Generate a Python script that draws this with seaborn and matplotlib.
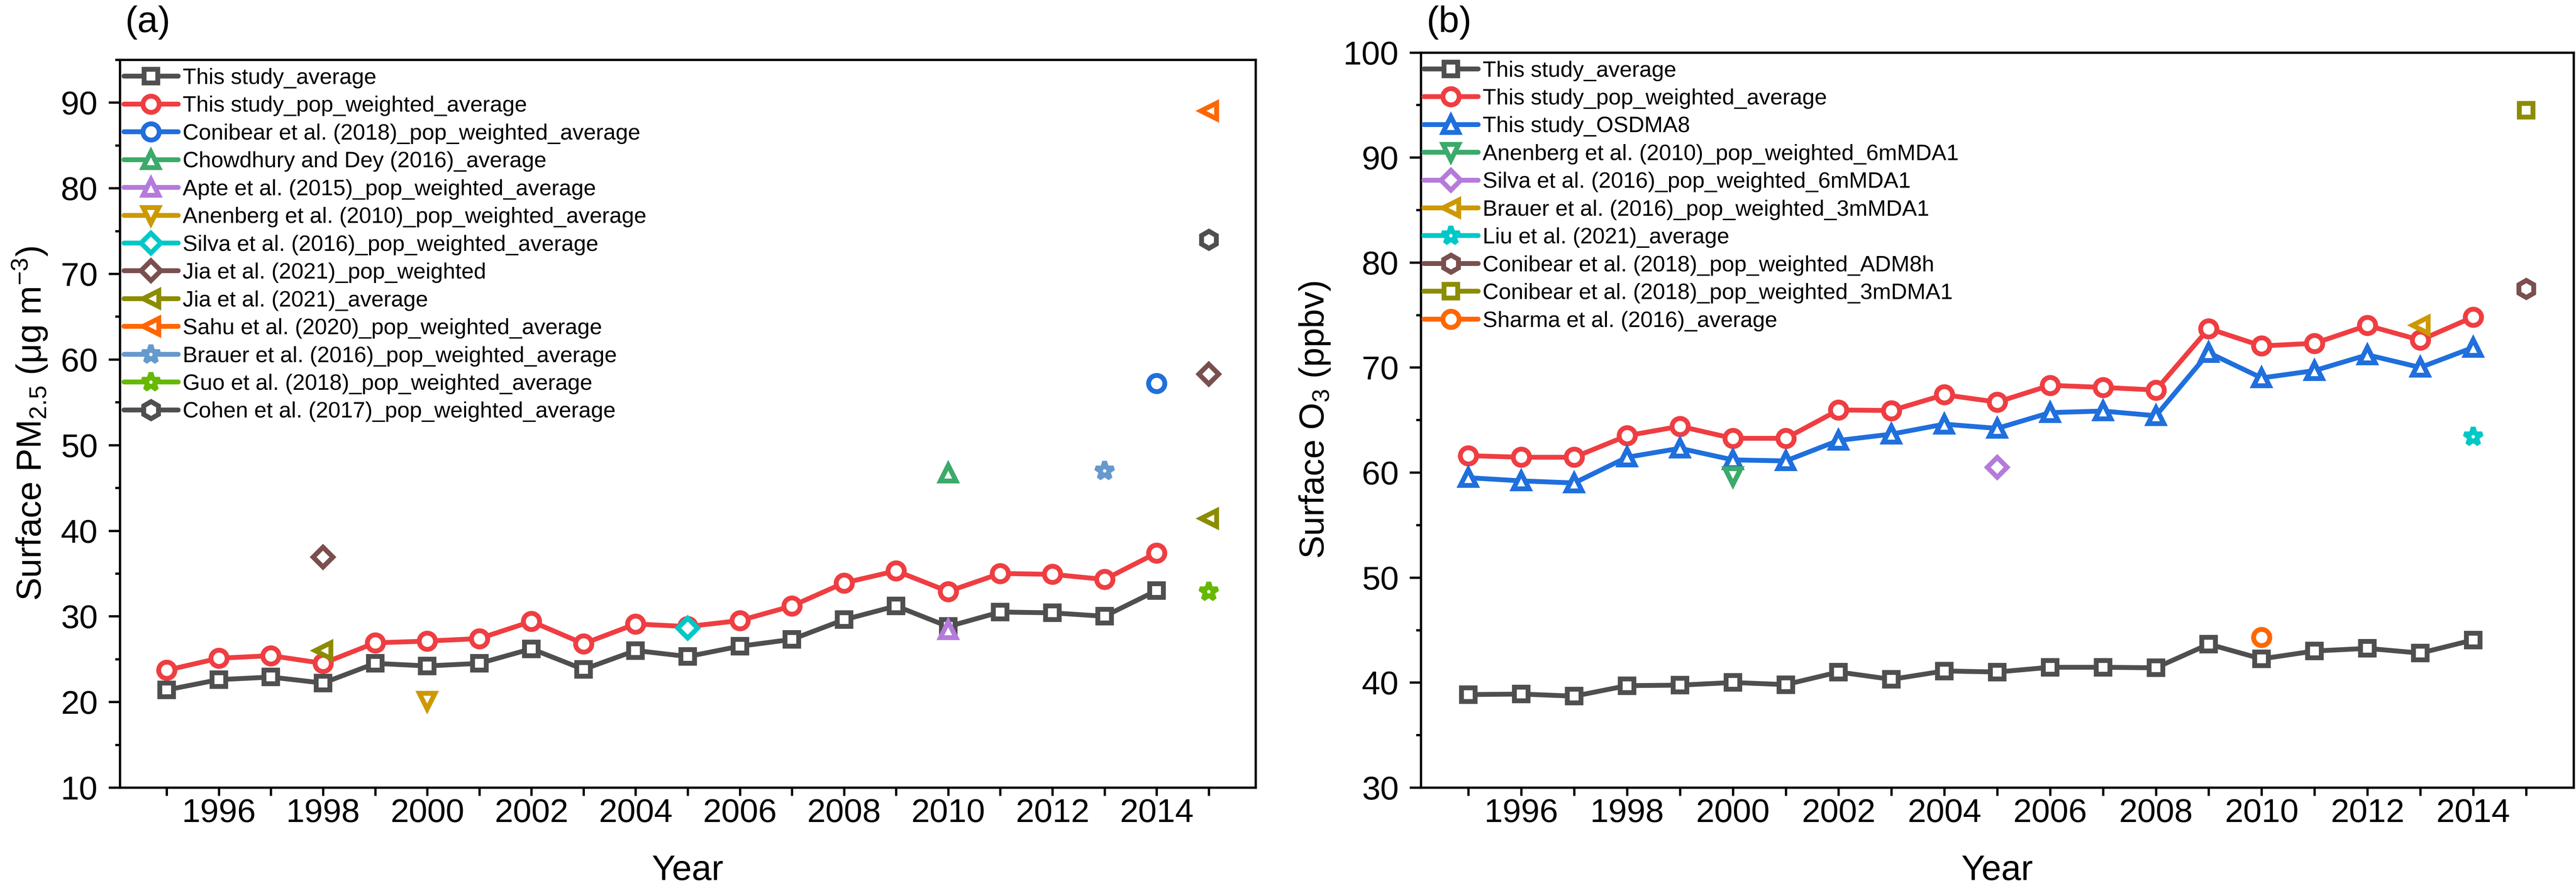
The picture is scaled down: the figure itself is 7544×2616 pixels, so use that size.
import matplotlib
matplotlib.use('Agg')
import matplotlib.pyplot as plt
import seaborn as sns
from matplotlib.ticker import FixedLocator, MultipleLocator, FuncFormatter

# ---------------- data ----------------
years = list(range(1995, 2015))

# panel (a) PM2.5
pm_this_avg = [21.4, 22.6, 22.9, 22.2, 24.5, 24.2, 24.5, 26.2, 23.8, 26.0,
               25.3, 26.5, 27.3, 29.6, 31.2, 28.8, 30.5, 30.4, 30.0, 33.0]
pm_this_pop = [23.7, 25.1, 25.4, 24.5, 26.9, 27.1, 27.4, 29.4, 26.8, 29.1,
               28.8, 29.5, 31.2, 33.9, 35.3, 32.9, 35.0, 34.9, 34.3, 37.4]
pm_conibear_x, pm_conibear_y = [2014], [57.2]
pm_chowdhury_x, pm_chowdhury_y = [2010], [46.7]
pm_apte_x, pm_apte_y = [2010], [28.4]
pm_anenberg_x, pm_anenberg_y = [2000], [20.1]
pm_silva_x, pm_silva_y = [2005], [28.6]
pm_jia_pop_x, pm_jia_pop_y = [1998, 2015], [36.9, 58.3]
pm_jia_avg_x, pm_jia_avg_y = [1998, 2015], [26.0, 41.4]
pm_sahu_x, pm_sahu_y = [2015], [89.0]
pm_brauer_x, pm_brauer_y = [2013], [47.0]
pm_guo_x, pm_guo_y = [2015], [32.9]
pm_cohen_x, pm_cohen_y = [2015], [74.0]

# panel (b) O3
o3_this_avg = [38.85, 38.9, 38.7, 39.7, 39.75, 40.0, 39.8, 41.0, 40.3, 41.1,
               41.0, 41.45, 41.45, 41.4, 43.65, 42.25, 43.0, 43.25, 42.8, 44.05]
o3_this_pop = [61.6, 61.45, 61.45, 63.5, 64.4, 63.25, 63.25, 65.95, 65.9, 67.4,
               66.7, 68.3, 68.1, 67.85, 73.7, 72.05, 72.3, 74.0, 72.6, 74.8]
o3_this_osdma8 = [59.5, 59.2, 59.0, 61.45, 62.3, 61.2, 61.1, 63.05, 63.65, 64.6,
                  64.2, 65.7, 65.85, 65.4, 71.4, 69.0, 69.7, 71.2, 70.0, 71.9]
o3_anenberg_x, o3_anenberg_y = [2000], [59.6]
o3_silva_x, o3_silva_y = [2005], [60.5]
o3_brauer_x, o3_brauer_y = [2013], [74.0]
o3_liu_x, o3_liu_y = [2014], [63.4]
o3_conibear_adm_x, o3_conibear_adm_y = [2015], [77.5]
o3_conibear_3m_x, o3_conibear_3m_y = [2015], [94.5]
o3_sharma_x, o3_sharma_y = [2010], [44.3]

labels_a = ["This study_average", "This study_pop_weighted_average",
            "Conibear et al. (2018)_pop_weighted_average",
            "Chowdhury and Dey (2016)_average",
            "Apte et al. (2015)_pop_weighted_average",
            "Anenberg et al. (2010)_pop_weighted_average",
            "Silva et al. (2016)_pop_weighted_average",
            "Jia et al. (2021)_pop_weighted",
            "Jia et al. (2021)_average",
            "Sahu et al. (2020)_pop_weighted_average",
            "Brauer et al. (2016)_pop_weighted_average",
            "Guo et al. (2018)_pop_weighted_average",
            "Cohen et al. (2017)_pop_weighted_average"]
labels_b = ["This study_average", "This study_pop_weighted_average",
            "This study_OSDMA8",
            "Anenberg et al. (2010)_pop_weighted_6mMDA1",
            "Silva et al. (2016)_pop_weighted_6mMDA1",
            "Brauer et al. (2016)_pop_weighted_3mMDA1",
            "Liu et al. (2021)_average",
            "Conibear et al. (2018)_pop_weighted_ADM8h",
            "Conibear et al. (2018)_pop_weighted_3mDMA1",
            "Sharma et al. (2016)_average"]

# ---------------- style ----------------
sns.set_style('ticks')
plt.rcParams['font.family'] = ['Liberation Sans', 'DejaVu Sans']
plt.rcParams['mathtext.fontset'] = 'custom'
plt.rcParams['mathtext.rm'] = 'Liberation Sans'
plt.rcParams['mathtext.it'] = 'Liberation Sans:italic'
plt.rcParams['mathtext.bf'] = 'Liberation Sans:bold'
for k in ['axes.edgecolor', 'text.color', 'axes.labelcolor', 'xtick.color', 'ytick.color']:
    plt.rcParams[k] = 'black'

GRAY = '#4F4F4F'
RED = '#EF3E42'
BLUE = '#1F6FDD'
GREEN = '#3BAA6A'
PURPLE = '#B57BDB'
GOLD = '#CC9900'
CYAN = '#00C8C8'
BROWN = '#7A4F4F'
OLIVE = '#8C8C00'
ORANGE = '#FF6600'
STEEL = '#6699CC'
LIME = '#66B800'

LW = 1.7
MEW = 1.7
MS = {'s': 4.9, 'o': 5.7, '^': 5.5, 'v': 5.5, '<': 5.5, 'D': 4.9, '*': 6.6, 'h': 6.0}

W, H = 7544, 2616
fig = plt.figure(figsize=(W / 600, H / 600), dpi=600)
boxA = (351, 175, 3677, 2307)      # left, top, right, bottom in pixels
boxB = (4161, 153.5, 7537, 2307)
axA = fig.add_axes([boxA[0] / W, (H - boxA[3]) / H, (boxA[2] - boxA[0]) / W, (boxA[3] - boxA[1]) / H])
axB = fig.add_axes([boxB[0] / W, (H - boxB[3]) / H, (boxB[2] - boxB[0]) / W, (boxB[3] - boxB[1]) / H])


def draw(ax, x, y, color, marker, label, z):
    sns.lineplot(x=x, y=y, ax=ax, color=color, marker=marker,
                 markersize=MS[marker], markeredgewidth=MEW,
                 markerfacecolor='white', markeredgecolor=color,
                 linewidth=LW, label=label, zorder=z, errorbar=None)


series_a = [
    (years, pm_this_avg, GRAY, 's', True),
    (years, pm_this_pop, RED, 'o', True),
    (pm_conibear_x, pm_conibear_y, BLUE, 'o', False),
    (pm_chowdhury_x, pm_chowdhury_y, GREEN, '^', False),
    (pm_apte_x, pm_apte_y, PURPLE, '^', False),
    (pm_anenberg_x, pm_anenberg_y, GOLD, 'v', False),
    (pm_silva_x, pm_silva_y, CYAN, 'D', False),
    (pm_jia_pop_x, pm_jia_pop_y, BROWN, 'D', False),
    (pm_jia_avg_x, pm_jia_avg_y, OLIVE, '<', False),
    (pm_sahu_x, pm_sahu_y, ORANGE, '<', False),
    (pm_brauer_x, pm_brauer_y, STEEL, '*', False),
    (pm_guo_x, pm_guo_y, LIME, '*', False),
    (pm_cohen_x, pm_cohen_y, GRAY, 'h', False),
]
series_b = [
    (years, o3_this_avg, GRAY, 's', True),
    (years, o3_this_pop, RED, 'o', True),
    (years, o3_this_osdma8, BLUE, '^', True),
    (o3_anenberg_x, o3_anenberg_y, GREEN, 'v', False),
    (o3_silva_x, o3_silva_y, PURPLE, 'D', False),
    (o3_brauer_x, o3_brauer_y, GOLD, '<', False),
    (o3_liu_x, o3_liu_y, CYAN, '*', False),
    (o3_conibear_adm_x, o3_conibear_adm_y, BROWN, 'h', False),
    (o3_conibear_3m_x, o3_conibear_3m_y, OLIVE, 's', False),
    (o3_sharma_x, o3_sharma_y, ORANGE, 'o', False),
]


def xfmt(v, p):
    iv = int(round(v))
    return str(iv) if (iv % 2 == 0 and 1996 <= iv <= 2014) else ''


for ax, box, series, labels, ylim, ylabel, lpad in [
        (axA, boxA, series_a, labels_a, (10, 95), 'Surface PM$_{2.5}$ (μg m$^{-3}$)', 12),
        (axB, boxB, series_b, labels_b, (30, 100), 'Surface O$_3$ (ppbv)', 9)]:
    for i, ((x, y, c, m, connected), lab) in enumerate(zip(series, labels)):
        if connected:
            draw(ax, x, y, c, m, lab, 3 + i)
        else:
            for j, (xx, yy) in enumerate(zip(x, y)):
                draw(ax, [xx], [yy], c, m, lab if j == 0 else '_nolegend_', 3 + i)
    ax.set_xlim(1994.1, 2015.9)
    ax.set_ylim(*ylim)
    ax.xaxis.set_major_locator(FixedLocator(list(range(1995, 2016))))
    ax.xaxis.set_major_formatter(FuncFormatter(xfmt))
    ax.yaxis.set_major_locator(MultipleLocator(10))
    ax.yaxis.set_minor_locator(MultipleLocator(5))
    ax.tick_params(axis='x', which='major', direction='out', length=2.9, width=0.8,
                   pad=0.8, labelsize=11.7, top=False)
    ax.tick_params(axis='y', which='major', direction='out', length=4.0, width=0.8,
                   pad=3.8, labelsize=11.7, right=False)
    ax.tick_params(axis='y', which='minor', direction='out', length=1.7, width=0.8,
                   right=False)
    ax.tick_params(axis='x', which='minor', bottom=False, top=False)
    for s in ax.spines.values():
        s.set_visible(True)
        s.set_linewidth(0.8)
        s.set_color('black')
    ax.set_xlabel('Year', fontsize=12.5, labelpad=9)
    ax.set_ylabel(ylabel, fontsize=12.2, labelpad=4)
    aw, ah = box[2] - box[0], box[3] - box[1]
    ax.legend(loc='upper left', bbox_to_anchor=(lpad / aw, 1 - 24 / ah),
              frameon=False, fontsize=7.8, handlelength=2.44,
              handletextpad=0.2, labelspacing=0.33, borderpad=0, borderaxespad=0,
              numpoints=1)

fig.text(366 / W, 1 - 94 / H, '(a)', fontsize=13, ha='left', va='baseline')
fig.text(4177 / W, 1 - 94 / H, '(b)', fontsize=13, ha='left', va='baseline')

fig.savefig('out.png', dpi=600, facecolor='white')
